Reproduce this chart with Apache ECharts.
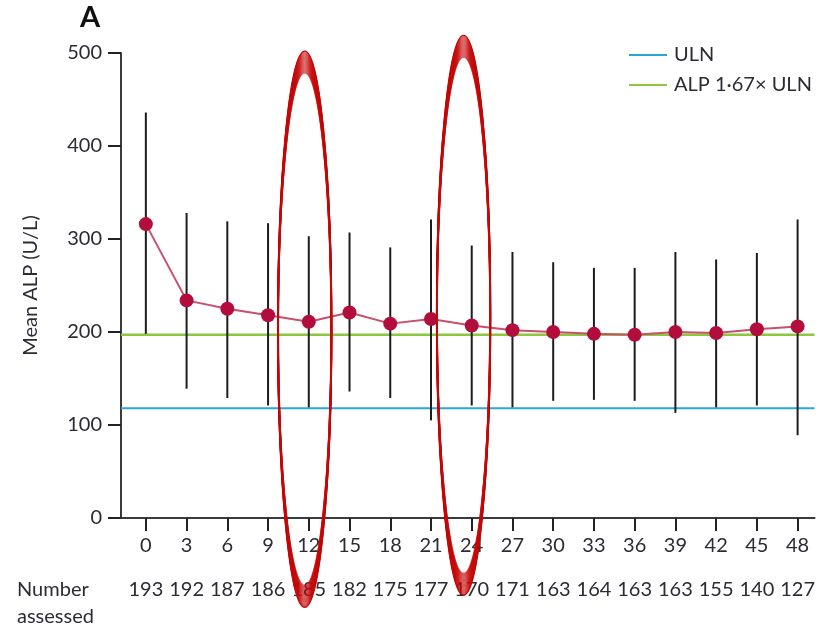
<!DOCTYPE html>
<html>
<head>
<meta charset="utf-8">
<script src="https://cdn.jsdelivr.net/npm/echarts@6/dist/echarts.min.js"></script>
<style>
html,body{margin:0;padding:0;background:#fff;}
#chart{width:818px;height:628px;}
</style>
</head>
<body>
<div id="chart"></div>
<script>
// ---- data ----
const months   = [0, 3, 6, 9, 12, 15, 18, 21, 24, 27, 30, 33, 36, 39, 42, 45, 48];
const meanALP  = [316, 234, 225, 218, 211, 221, 209, 214, 207, 202, 200, 198, 197, 200, 199, 203, 206];
const lowerSD  = [198, 139, 129, 121, 119, 136, 129, 105, 121, 119, 126, 127, 126, 113, 119, 121, 89];
const upperSD  = [436, 328, 319, 317, 303, 307, 291, 321, 293, 286, 275, 269, 269, 286, 278, 285, 321];
const numberAssessed = [193, 192, 187, 186, 185, 182, 175, 177, 170, 171, 163, 164, 163, 163, 155, 140, 127];
const yTicks   = [0, 100, 200, 300, 400, 500];
const ULN = 118;
const ALP167 = 197;
// annotation ellipses (hand-drawn highlight around months 12 and 24)
const ellipseMonth  = [11.7, 23.4];
const ellipseMid    = [203, 218];
const ellipseHalf   = [299, 301];

const xMin = -1.83, xMax = 49.25;
const FONT = 'Lato';
const TXT = '#2b2b35';

const chart = echarts.init(document.getElementById('chart'), null, {renderer: 'canvas'});

const option = {
  animation: false,
  backgroundColor: '#fff',
  textStyle: {fontFamily: FONT},
  grid: {left: 121, right: 1, top: 53, bottom: 110, containLabel: false},
  legend: {
    orient: 'vertical',
    left: 629, top: 45, padding: 0,
    itemWidth: 38, itemHeight: 2,
    itemGap: 10,
    icon: 'rect',
    textStyle: {fontFamily: FONT, fontSize: 20, color: TXT, lineHeight: 20, padding: [0, 0, 0, 2]},
    data: ['ULN', 'ALP 1·67× ULN']
  },
  xAxis: [{
    type: 'value', min: xMin, max: xMax,
    axisLine: {show: true, onZero: false, lineStyle: {color: '#3a3a3a', width: 2}},
    axisTick: {show: true, length: 13, lineStyle: {color: '#222', width: 2}, customValues: months},
    axisLabel: {show: true, customValues: months, margin: 18, fontSize: 20, color: TXT, fontFamily: FONT},
    splitLine: {show: false}
  }, {
    type: 'value', min: xMin, max: xMax, position: 'bottom',
    axisLine: {show: false, onZero: false}, axisTick: {show: false}, splitLine: {show: false},
    axisLabel: {
      show: true, customValues: months, margin: 62, fontSize: 20, color: TXT, fontFamily: FONT,
      formatter: v => { const i = months.indexOf(v); return i >= 0 ? String(numberAssessed[i]) : ''; }
    }
  }],
  yAxis: {
    type: 'value', min: 0, max: 500, interval: 100,
    name: 'Mean ALP (U/L)', nameLocation: 'middle', nameGap: 80,
    nameTextStyle: {fontSize: 20, color: TXT, fontFamily: FONT},
    axisLine: {show: true, onZero: false, lineStyle: {color: '#3a3a3a', width: 2}},
    axisTick: {show: true, length: 13, lineStyle: {color: '#222', width: 2}},
    axisLabel: {margin: 19, fontSize: 20, color: TXT, fontFamily: FONT,
      formatter: v => yTicks.indexOf(v) >= 0 ? String(v) : ''},
    splitLine: {show: false}
  },
  graphic: [
    {type: 'text', left: 80, top: 3, style: {text: 'A', fontSize: 29, fontWeight: 'bold', fill: '#111', fontFamily: FONT}},
    {type: 'text', left: 17, top: 576, style: {text: 'Number\nassessed', fontSize: 20, lineHeight: 27, fill: TXT, fontFamily: FONT}}
  ],
  series: [
    {
      name: 'ULN', type: 'line', symbol: 'none', z: 2,
      color: '#2aa7d6',
      lineStyle: {color: '#2aa7d6', width: 2},
      data: [[xMin, ULN], [xMax, ULN]]
    },
    {
      name: 'ALP 1·67× ULN', type: 'line', symbol: 'none', z: 2,
      color: '#8dc63f',
      lineStyle: {color: '#8dc63f', width: 2.5},
      data: [[xMin, ALP167], [xMax, ALP167]]
    },
    {
      name: 'SD', type: 'custom', z: 3,
      renderItem: (params, api) => {
        const x = api.value(0);
        const lo = api.coord([x, api.value(1)]);
        const hi = api.coord([x, api.value(2)]);
        return {type: 'line', shape: {x1: lo[0], y1: lo[1], x2: hi[0], y2: hi[1]},
          style: {stroke: '#1c1c1c', lineWidth: 2}};
      },
      encode: {x: 0, y: [1, 2]},
      data: months.map((m, i) => [m, lowerSD[i], upperSD[i]])
    },
    {
      name: 'Mean', type: 'line', z: 4,
      symbol: 'circle', symbolSize: 14,
      itemStyle: {color: '#b20d3c'},
      lineStyle: {color: '#c8506c', width: 2},
      data: months.map((m, i) => [m, meanALP[i]])
    },
    {
      name: 'highlight', type: 'custom', z: 10, clip: false, silent: true,
      renderItem: (params, api) => {
        const c = api.coord([api.value(0), api.value(1)]);
        const ry = api.size([0, api.value(2)])[1];
        const rx = 27;
        const children = [];
        for (let k = 0; k <= 22; k++) {
          children.push({type: 'ellipse', shape: {cx: c[0], cy: c[1], rx: rx - k * 0.03, ry: ry - k},
            style: {fill: 'none', stroke: '#c40a0a', lineWidth: 1.4, opacity: k === 0 ? 1 : 0.55}});
        }
        return {type: 'group', children: children};
      },
      encode: {x: 0, y: 1},
      data: ellipseMonth.map((m, i) => [m, ellipseMid[i], ellipseHalf[i]])
    }
  ]
};
chart.setOption(option);
</script>
</body>
</html>
